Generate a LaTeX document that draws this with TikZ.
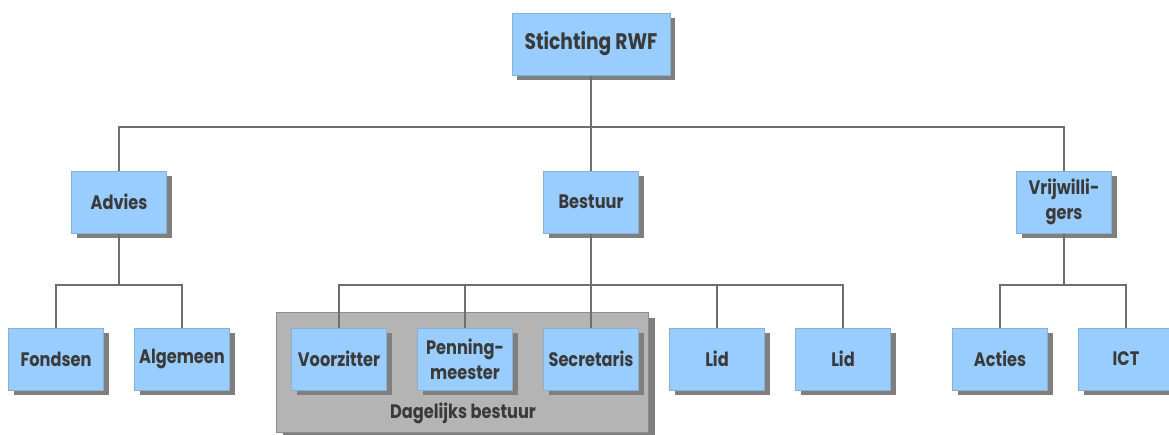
\documentclass[tikz,border=0pt]{standalone}
\usepackage{fontspec}
\setmainfont{Poppins}[FakeStretch=0.83]
\usetikzlibrary{shadows}
\definecolor{boxfill}{HTML}{99CCFF}
\definecolor{boxline}{HTML}{8AAFD0}
\definecolor{shad}{HTML}{7F7F7F}
\definecolor{conn}{HTML}{6E6E6E}
\definecolor{txt}{HTML}{3A3A3A}
\definecolor{grpfill}{HTML}{B4B4B4}
\definecolor{grpline}{HTML}{8C8C8C}
\begin{document}
\begin{tikzpicture}[x=1pt,y=-1pt,
  unit/.style={draw=boxline, line width=1pt, fill=boxfill, text=txt,
    minimum width=95pt, minimum height=62pt, inner sep=2pt, align=center,
    font=\fontsize{19.5}{25}\selectfont\bfseries,
    drop shadow={shadow xshift=5pt, shadow yshift=-5pt, fill=shad, opacity=1}},
  topunit/.style={unit, minimum width=158pt, font=\fontsize{22.5}{26}\selectfont\bfseries},
  link/.style={draw=conn, line width=1.3pt}]
\useasboundingbox (0,0) rectangle (1169,434);
% group
\node[draw=grpline, line width=1pt, fill=grpfill, minimum width=372pt, minimum height=120pt,
  drop shadow={shadow xshift=7pt, shadow yshift=-6pt, fill=shad, opacity=1}] (grp) at (462,372) {};
\node[text=txt, font=\fontsize{19.5}{24}\selectfont\bfseries] (grplbl) at (463,413) {Dagelijks bestuur};
% coordinates for bus lines
\coordinate (bus1) at (0,127);
\coordinate (bus2) at (0,285);
% top
\node[topunit] (rwf) at (591,44) {Stichting RWF};
\node[unit] (advies) at (119,202) {Advies};
\node[unit] (bestuur) at (591,202) {Bestuur};
\node[unit] (vrij) at (1064,202) {Vrijwilli-\\gers};
\node[unit] (fondsen) at (56,359) {Fondsen};
\node[unit] (algemeen) at (182,359) {Algemeen};
\node[unit] (voorz) at (339,359) {Voorzitter};
\node[unit] (penn) at (465,359) {Penning-\\meester};
\node[unit] (secr) at (591,359) {Secretaris};
\node[unit] (lid1) at (717,359) {Lid};
\node[unit] (lid2) at (843,359) {Lid};
\node[unit] (acties) at (1000,359) {Acties};
\node[unit] (ict) at (1126,359) {ICT};
% connectors
\draw[link] (rwf.south) -- (rwf.south |- bus1) -| (advies.north);
\draw[link] (rwf.south |- bus1) -- (bestuur.north);
\draw[link] (rwf.south |- bus1) -| (vrij.north);
\draw[link] (advies.south) -- (advies.south |- bus2) -| (fondsen.north);
\draw[link] (advies.south |- bus2) -| (algemeen.north);
\draw[link] (bestuur.south) -- (bestuur.south |- bus2) -| (voorz.north);
\draw[link] (bestuur.south |- bus2) -| (penn.north);
\draw[link] (bestuur.south |- bus2) -- (secr.north);
\draw[link] (bestuur.south |- bus2) -| (lid1.north);
\draw[link] (bestuur.south |- bus2) -| (lid2.north);
\draw[link] (vrij.south) -- (vrij.south |- bus2) -| (acties.north);
\draw[link] (vrij.south |- bus2) -| (ict.north);
\end{tikzpicture}
\end{document}
